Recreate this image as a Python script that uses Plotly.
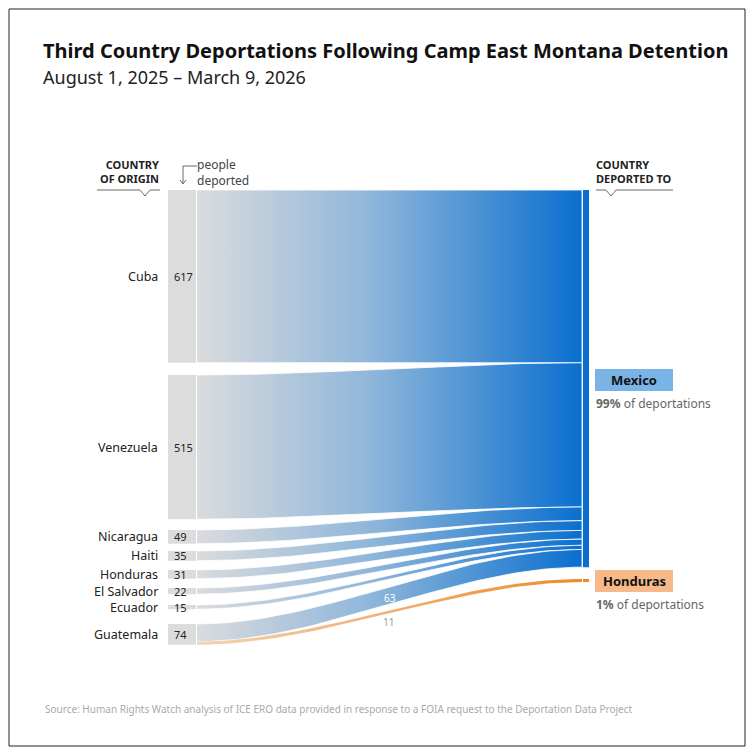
import numpy as np
import plotly.graph_objects as go

origins = ["Cuba", "Venezuela", "Nicaragua", "Haiti", "Honduras", "El Salvador", "Ecuador", "Guatemala"]
to_mexico = [617, 515, 49, 35, 31, 22, 15, 63]
to_honduras = [0, 0, 0, 0, 0, 0, 0, 11]
totals = [m + h for m, h in zip(to_mexico, to_honduras)]
dest_names = ["Mexico", "Honduras"]

# layout (pixel coords)
K = 0.28
left_tops = [190, 375, 530, 551, 570, 588, 605, 624]
XL0, XL1, XR0, XR1 = 168, 196, 583, 589
mex_top = 190
hon_top = 579
OFF = 8  # page body margin

fig = go.Figure()

def band(x0, x1, t0, b0, t1, b1, n=60):
    t = np.linspace(0, 1, n)
    s = 3 * t**2 - 2 * t**3
    xs = x0 + (x1 - x0) * t
    top = t0 + (t1 - t0) * s
    bot = b0 + (b1 - b0) * s
    return np.concatenate([xs, xs[::-1]]), np.concatenate([top, bot[::-1]])

blue_scale = [[0, "#dadbdd"], [0.45, "#8fb6da"], [1, "#0a6fcf"]]
orange_scale = [[0, "#f3d3b5"], [1, "#ef8a2c"]]

for i, name in enumerate(origins):
    y0 = left_tops[i]
    y1 = y0 + totals[i] * K
    fig.add_shape(type="rect", x0=XL0, x1=XL1, y0=y0, y1=y1, fillcolor="#dcdcdc", line_width=0)
    fig.add_annotation(x=160, y=(y0 + y1) / 2, text=name, showarrow=False, xanchor="right",
                       font=dict(size=12.5, color="#222"))
    fig.add_annotation(x=172, y=(y0 + y1) / 2, text=str(totals[i]), showarrow=False, xanchor="left",
                       font=dict(size=11, color="#222"))

cur = mex_top
for i in range(len(origins)):
    y0 = left_tops[i]
    h = to_mexico[i] * K
    xs, ys = band(XL1 + 1, XR0 - 1, y0, y0 + h, cur, cur + h)
    fig.add_trace(go.Scatter(x=xs, y=ys, fill="toself", mode="lines", line=dict(width=0.8, color="white"),
                             fillgradient=dict(type="horizontal", colorscale=blue_scale),
                             hoverinfo="skip", showlegend=False))
    cur += h
mex_bot = cur

i = origins.index("Guatemala")
y0 = left_tops[i] + to_mexico[i] * K
h = to_honduras[i] * K
xs, ys = band(XL1 + 1, XR0 - 1, y0, y0 + h, hon_top, hon_top + h)
fig.add_trace(go.Scatter(x=xs, y=ys, fill="toself", mode="lines", line=dict(width=0),
                         fillgradient=dict(type="horizontal", colorscale=orange_scale),
                         hoverinfo="skip", showlegend=False))

fig.add_shape(type="rect", x0=XR0, x1=XR1, y0=mex_top, y1=mex_bot, fillcolor="#0a6fcf", line_width=0)
fig.add_shape(type="rect", x0=XR0, x1=XR1, y0=hon_top, y1=hon_top + sum(to_honduras) * K,
              fillcolor="#ef8a2c", line_width=0)

total = sum(totals)
pct = [round(100 * sum(to_mexico) / total), round(100 * sum(to_honduras) / total)]
boxes = [(369, "#7ab3e6"), (570, "#f7b98a")]
for (by, col), name, p in zip(boxes, dest_names, pct):
    fig.add_shape(type="rect", x0=595, x1=673, y0=by, y1=by + 22, fillcolor=col, line_width=0)
    fig.add_annotation(x=634, y=by + 11, text="<b>%s</b>" % name, showarrow=False,
                       font=dict(size=13, color="#111"))
    fig.add_annotation(x=594, y=by + 34, text="<b>%d%%</b> of deportations" % p, showarrow=False,
                       xanchor="left", font=dict(size=12, color="#666"))

fig.add_annotation(x=390, y=598, text=str(to_mexico[-1]), showarrow=False, font=dict(size=10, color="white"))
fig.add_annotation(x=388, y=622, text=str(to_honduras[-1]), showarrow=False, font=dict(size=10, color="#999"))

fig.add_annotation(x=161, y=171, text="<b>COUNTRY<br>OF ORIGIN</b>", showarrow=False, xanchor="right",
                   align="right", font=dict(size=11, color="#222"))
fig.add_annotation(x=594, y=171, text="<b>COUNTRY<br>DEPORTED TO</b>", showarrow=False, xanchor="left",
                   align="left", font=dict(size=11, color="#222"))
fig.add_annotation(x=195, y=172, text="people<br>deported", showarrow=False, xanchor="left",
                   align="left", font=dict(size=12, color="#444"))
for path in ["M97,190 L140,190 L145,196 L150,190 L160,190",
             "M596,190 L606,190 L611,196 L616,190 L673,190",
             "M197,166 L183,166 L183,183 M180,180 L183,184 L186,180"]:
    fig.add_shape(type="path", path=path, line=dict(color="#444", width=0.8))

fig.add_annotation(x=41, y=50, text="<b>Third Country Deportations Following Camp East Montana Detention</b>",
                   showarrow=False, xanchor="left", font=dict(size=20, color="#111"))
fig.add_annotation(x=41, y=77, text="August 1, 2025 – March 9, 2026", showarrow=False, xanchor="left",
                   font=dict(size=18, color="#222"))
fig.add_annotation(x=43, y=709, text="Source: Human Rights Watch analysis of ICE ERO data provided in response to a FOIA request to the Deportation Data Project",
                   showarrow=False, xanchor="left", font=dict(size=10, color="#aaa"))
fig.add_shape(type="rect", x0=9, x1=745, y0=9, y1=746, line=dict(color="#222", width=1))

fig.update_layout(width=754, height=751, margin=dict(l=0, r=0, t=0, b=0),
                  paper_bgcolor="white", plot_bgcolor="white",
                  font=dict(family="Noto Sans"),
                  xaxis=dict(range=[OFF, 754 + OFF], visible=False, fixedrange=True),
                  yaxis=dict(range=[751 + OFF, OFF], visible=False, fixedrange=True))
fig.write_html("out.html")
